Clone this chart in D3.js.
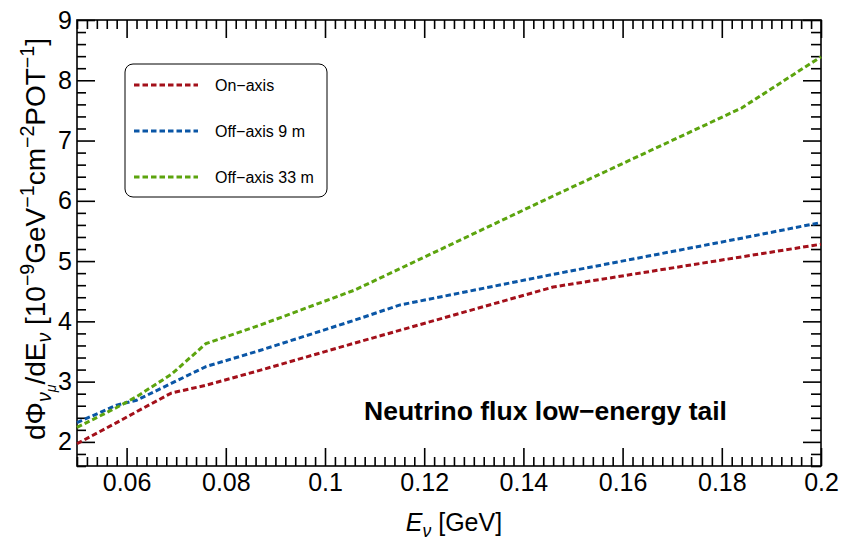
<!DOCTYPE html>
<html>
<head>
<meta charset="utf-8">
<script src="https://cdn.jsdelivr.net/npm/d3@7"></script>
<style>
    body { margin: 0; background: #fff; }
    text { font-family: "Liberation Sans", Arial, Helvetica, sans-serif; fill: #000; }
</style>
</head>
<body>
<div id="chart"></div>
<script>

// values
var energies = [0.05, 0.058, 0.062, 0.069, 0.076, 0.087, 0.106, 0.115, 0.146, 0.184, 0.2];
var onAxis = [1.97, 2.32, 2.50, 2.81, 2.94, 3.19, 3.64, 3.85, 4.57, 5.07, 5.28];
var offAxis9 = [2.32, 2.61, 2.69, 2.97, 3.25, 3.52, 4.02, 4.27, 4.78, 5.38, 5.64];
var offAxis33 = [2.24, 2.57, 2.75, 3.12, 3.63, 3.94, 4.52, 4.87, 6.08, 7.54, 8.39];

var seriesNames = ["On\u2212axis", "Off\u2212axis 9 m", "Off\u2212axis 33 m"];
var seriesColors = ["#a3101a", "#0a56a6", "#5ca40e"];

var xTicks = [0.06, 0.08, 0.1, 0.12, 0.14, 0.16, 0.18, 0.2];
var xTickLabels = ["0.06", "0.08", "0.1", "0.12", "0.14", "0.16", "0.18", "0.2"];
var yTicks = [2, 3, 4, 5, 6, 7, 8, 9];
var yTickLabels = ["2", "3", "4", "5", "6", "7", "8", "9"];

var annotation = "Neutrino flux low\u2212energy tail";

var margin = {
        top: 20,
        right: 21,
        bottom: 77,
        left: 77
    },
    width = 842 - margin.left - margin.right,
    height = 543 - margin.top - margin.bottom;

var x = d3.scaleLinear().domain([0.05, 0.2]).range([0, width]);
var y = d3.scaleLinear().domain([1.6, 9]).range([height, 0]);

var svg = d3.select("#chart").append("svg")
    .attr("width", 842)
    .attr("height", 543)
    .append("g")
    .attr("transform", "translate(" + margin.left + "," + margin.top + ")");

var xMinor = d3.range(0, 76).map(function (i) { return 0.05 + i * 0.002; })
    .filter(function (v) { return Math.abs(Math.round(v * 50) - v * 50) > 1e-6; });
var yMinor = d3.range(0, 38).map(function (i) { return 1.6 + i * 0.2; })
    .filter(function (v) { return Math.abs(Math.round(v) - v) > 1e-6; });

function styleAxis(g) {
    g.select(".domain").remove();
    g.selectAll("line").attr("stroke", "#000").attr("stroke-width", 1.6);
    g.selectAll("text").style("font-size", "25px").attr("fill", "#000");
}

var labelOf = function (list, labels) {
    return function (d) { return labels[list.indexOf(d)]; };
};

// bottom + top x axes, ticks pointing inward
svg.append("g").attr("transform", "translate(0," + height + ")")
    .call(d3.axisBottom(x).tickValues(xMinor).tickSize(-9).tickFormat(""))
    .call(styleAxis);
svg.append("g").attr("transform", "translate(0," + height + ")")
    .call(d3.axisBottom(x).tickValues(xTicks).tickSize(-18).tickPadding(7)
        .tickFormat(labelOf(xTicks, xTickLabels)))
    .call(styleAxis);
svg.append("g")
    .call(d3.axisTop(x).tickValues(xMinor).tickSize(-9).tickFormat(""))
    .call(styleAxis);
svg.append("g")
    .call(d3.axisTop(x).tickValues(xTicks).tickSize(-18).tickFormat(""))
    .call(styleAxis);

// left + right y axes
svg.append("g")
    .call(d3.axisLeft(y).tickValues(yMinor).tickSize(-9).tickFormat(""))
    .call(styleAxis);
svg.append("g")
    .call(d3.axisLeft(y).tickValues(yTicks).tickSize(-18).tickPadding(5)
        .tickFormat(labelOf(yTicks, yTickLabels)))
    .call(styleAxis);
svg.append("g").attr("transform", "translate(" + width + ",0)")
    .call(d3.axisRight(y).tickValues(yMinor).tickSize(-10).tickFormat(""))
    .call(styleAxis);
svg.append("g").attr("transform", "translate(" + width + ",0)")
    .call(d3.axisRight(y).tickValues(yTicks).tickSize(-18).tickFormat(""))
    .call(styleAxis);

svg.append("rect")
    .attr("width", width)
    .attr("height", height)
    .attr("fill", "none")
    .attr("stroke", "#000")
    .attr("stroke-width", 1.6);

// curves
var line = d3.line()
    .x(function (d) { return x(d[0]); })
    .y(function (d) { return y(d[1]); });

[onAxis, offAxis9, offAxis33].forEach(function (vals, i) {
    svg.append("path")
        .datum(energies.map(function (e, j) { return [e, vals[j]]; }))
        .attr("d", line)
        .attr("fill", "none")
        .attr("stroke", seriesColors[i])
        .attr("stroke-width", 3)
        .attr("stroke-dasharray", "5.5,3");
});

// legend
var legend = svg.append("g").attr("transform", "translate(" + (125 - margin.left) + "," + (64 - margin.top) + ")");
legend.append("rect")
    .attr("width", 202)
    .attr("height", 133)
    .attr("rx", 8)
    .attr("fill", "#fff")
    .attr("stroke", "#000")
    .attr("stroke-width", 1);

seriesNames.forEach(function (name, i) {
    var ly = 21 + i * 46;
    legend.append("line")
        .attr("x1", 9).attr("x2", 73)
        .attr("y1", ly).attr("y2", ly)
        .attr("stroke", seriesColors[i])
        .attr("stroke-width", 3)
        .attr("stroke-dasharray", "5.5,3");
    legend.append("text")
        .attr("x", 90)
        .attr("y", ly)
        .attr("dy", "0.35em")
        .style("font-size", "16px")
        .text(name);
});

svg.append("text")
    .attr("x", 364 - margin.left)
    .attr("y", 420 - margin.top)
    .style("font-size", "26.5px")
    .style("font-weight", "bold")
    .text(annotation);

// rich text helper: parts are [text, baseline offset (em of main), scale, italic]
function richText(sel, parts, size) {
    var prev = 0;
    parts.forEach(function (p) {
        var off = p[1] * size;
        sel.append("tspan")
            .attr("dy", (off - prev))
            .style("font-size", (size * p[2]) + "px")
            .style("font-style", p[3] ? "italic" : null)
            .text(p[0]);
        prev = off;
    });
}

var xTitle = svg.append("text")
    .attr("x", 454 - margin.left)
    .attr("y", 531 - margin.top)
    .attr("text-anchor", "middle")
    .style("font-size", "25px");
richText(xTitle, [
    ["E", 0, 1, true],
    ["\u03bd", 0.25, 0.7, true],
    [" [GeV]", 0, 1, false]
], 25);

var yTitle = svg.append("text")
    .attr("transform", "translate(" + (45 - margin.left) + "," + (239 - margin.top) + ") rotate(-90)")
    .attr("text-anchor", "middle")
    .style("font-size", "28px");
richText(yTitle, [
    ["d\u03a6", 0, 1, false],
    ["\u03bd", 0.22, 0.7, true],
    ["\u03bc", 0.4, 0.5, true],
    ["/dE", 0, 1, false],
    ["\u03bd", 0.22, 0.7, true],
    [" [10", 0, 1, false],
    ["\u22129", -0.4, 0.7, false],
    ["GeV", 0, 1, false],
    ["\u22121", -0.4, 0.7, false],
    ["cm", 0, 1, false],
    ["\u22122", -0.4, 0.7, false],
    ["POT", 0, 1, false],
    ["\u22121", -0.4, 0.7, false],
    ["]", 0, 1, false]
], 28);

</script>
</body>
</html>
